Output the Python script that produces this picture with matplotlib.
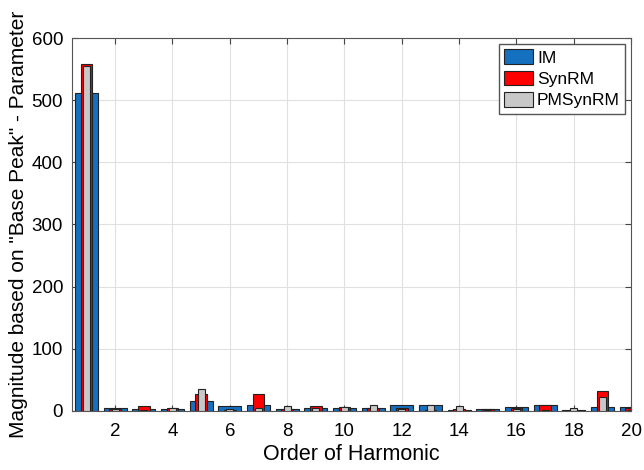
import numpy as np
import matplotlib
matplotlib.use("Agg")
import matplotlib.pyplot as plt

plt.rcParams["font.family"] = ["Liberation Sans", "DejaVu Sans"]

harmonics = np.arange(1, 21)
im_vals = [512, 4, 3, 3, 15, 7.5, 9, 2.5, 5, 5, 4, 10, 8.5, 2, 3.5, 5.5, 8.5, 1.5, 6, 6]
synrm_vals = [558, 3, 7, 4, 27, 1, 27, 3.5, 8, 5.5, 4, 5, 0.5, 3, 2.5, 4.5, 8.5, 1.5, 32, 4]
pmsynrm_vals = [555, 3.5, 2, 5, 35, 3, 5, 7, 4, 6, 9, 3, 8.5, 8, 1.5, 3, 0.5, 5, 22, 2]

series = [
    ("IM", im_vals, "#1670c0", 0.8),
    ("SynRM", synrm_vals, "#ff0000", 0.4),
    ("PMSynRM", pmsynrm_vals, "#c8c8c8", 0.25),
]

fig = plt.figure(figsize=(6.44, 4.70), dpi=100)
ax = fig.add_axes([0.112, 0.126, 0.868, 0.793])

for i, (name, vals, color, width) in enumerate(series):
    ax.bar(harmonics, vals, width=width, color=color, edgecolor="#222222",
           linewidth=0.8, label=name, zorder=3 + i)

ax.set_xlim(0.5, 20)
ax.set_ylim(0, 600)
ax.set_xticks(np.arange(2, 21, 2))
ax.set_yticks(np.arange(0, 601, 100))
ax.grid(True, color="#e0e0e0", linewidth=0.8, zorder=0)
ax.tick_params(direction="in", top=True, right=True, labelsize=13.5, length=4,
               color="#444444")
ax.tick_params(axis="x", pad=8.5)
ax.tick_params(axis="y", pad=6.5)
for s in ax.spines.values():
    s.set_color("#555555")

ax.set_xlabel("Order of Harmonic", fontsize=15.5, labelpad=3)
ax.set_ylabel('Magnitude based on "Base Peak" - Parameter', fontsize=15, labelpad=2.5)

leg = ax.legend(loc="upper right", fontsize=12.5, fancybox=False, framealpha=1,
                edgecolor="#555555", handlelength=1.7, handleheight=0.9,
                handletextpad=0.2, borderaxespad=0.35, borderpad=0.3,
                labelspacing=0.3)

fig.savefig("out.png", dpi=100)
